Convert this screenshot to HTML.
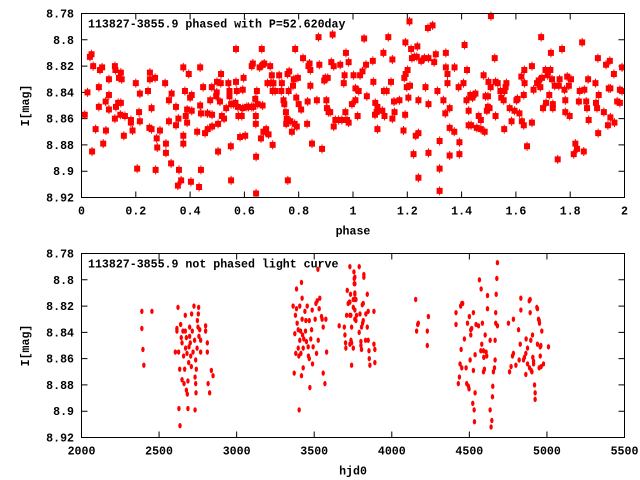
<!DOCTYPE html>
<html><head><meta charset="utf-8"><style>
html,body{margin:0;padding:0;background:#fff}
svg{display:block}
text{font-family:"Liberation Mono","DejaVu Sans Mono",monospace;font-weight:bold;font-size:11.6px;fill:#000}
</style></head><body>
<svg id="chart" width="640" height="480" viewBox="0 0 640 480" xmlns="http://www.w3.org/2000/svg">
<g id="top"></g>
<g id="bot"></g>
</svg>
<script>
const phaseTicks=["0","0.2","0.4","0.6","0.8","1","1.2","1.4","1.6","1.8","2"];
const hjdTicks=["2000","2500","3000","3500","4000","4500","5000","5500"];
const magTicks=["8.78","8.8","8.82","8.84","8.86","8.88","8.9","8.92"];
const phaseVals=[0.012,0.022,0.031,0.037,0.039,0.043,0.052,0.064,0.064,0.068,0.076,0.080,0.089,0.090,0.101,0.101,0.101,0.123,0.123,0.125,0.127,0.135,0.138,0.143,0.145,0.145,0.148,0.156,0.160,0.182,0.182,0.188,0.200,0.205,0.212,0.215,0.215,0.245,0.250,0.252,0.252,0.258,0.258,0.271,0.273,0.277,0.279,0.289,0.308,0.311,0.311,0.322,0.322,0.330,0.332,0.348,0.348,0.355,0.357,0.359,0.367,0.375,0.375,0.375,0.381,0.384,0.389,0.389,0.395,0.400,0.403,0.406,0.406,0.426,0.433,0.437,0.437,0.440,0.440,0.448,0.455,0.464,0.465,0.474,0.480,0.481,0.481,0.496,0.498,0.499,0.503,0.503,0.510,0.513,0.514,0.517,0.525,0.533,0.541,0.545,0.545,0.550,0.551,0.551,0.560,0.567,0.569,0.569,0.572,0.576,0.578,0.584,0.590,0.594,0.594,0.597,0.603,0.609,0.615,0.627,0.627,0.631,0.633,0.640,0.642,0.642,0.643,0.643,0.646,0.649,0.656,0.661,0.664,0.667,0.668,0.670,0.673,0.677,0.680,0.685,0.689,0.695,0.697,0.701,0.704,0.704,0.707,0.713,0.728,0.736,0.738,0.744,0.747,0.753,0.754,0.756,0.759,0.760,0.763,0.765,0.769,0.775,0.779,0.782,0.785,0.787,0.791,0.793,0.797,0.800,0.809,0.816,0.831,0.833,0.836,0.840,0.843,0.843,0.849,0.867,0.873,0.876,0.886,0.894,0.898,0.902,0.907,0.910,0.904,0.916,0.920,0.925,0.929,0.929,0.935,0.947,0.953,0.959,0.966,0.969,0.972,0.974,0.978,0.984,0.984,0.996,1.002,1.009,1.009,1.017,1.021,
1.026,1.035,1.041,1.048,1.051,1.073,1.075,1.081,1.082,1.087,1.090,1.090,1.108,1.112,1.114,1.116,1.124,1.130,1.140,1.145,1.145,1.151,1.153,1.171,1.186,1.189,1.192,1.193,1.194,1.198,1.201,1.204,1.208,1.210,1.214,1.217,1.223,1.226,1.231,1.235,1.237,1.241,1.241,1.241,1.251,1.263,1.267,1.276,1.278,1.278,1.278,1.293,1.299,1.305,1.311,1.319,1.319,1.319,1.333,1.340,1.342,1.342,1.348,1.348,1.356,1.356,1.356,1.373,1.374,1.389,1.392,1.392,1.407,1.411,1.418,1.420,1.426,1.426,1.432,1.435,1.440,1.444,1.451,1.456,1.463,1.471,1.471,1.481,1.485,1.488,1.493,1.497,1.497,1.499,1.503,1.507,1.508,1.522,1.525,1.525,1.533,1.543,1.546,1.555,1.557,1.558,1.562,1.565,1.577,1.584,1.595,1.602,1.606,1.613,1.620,1.622,1.629,1.629,1.631,1.632,1.641,1.659,1.659,1.665,1.678,1.684,1.690,1.693,1.696,1.700,1.709,1.711,1.717,1.723,1.727,1.729,1.733,1.736,1.736,1.743,1.754,1.758,1.761,1.770,1.779,1.782,1.782,1.789,1.795,1.798,1.803,1.813,1.819,1.825,1.832,1.835,1.844,1.850,1.852,1.859,1.862,1.866,1.868,1.893,1.895,1.899,1.902,1.903,1.905,1.924,1.932,1.939,1.942,1.946,1.948,1.948,1.961,1.963,1.973,1.983,1.983,1.991,1.991];
const phaseMags=[8.857,8.840,8.813,8.811,8.885,8.820,8.868,8.851,8.836,8.823,8.821,8.879,8.847,8.869,8.853,8.842,8.830,8.860,8.820,8.823,8.851,8.848,8.829,8.857,8.825,8.848,8.830,8.873,8.858,8.861,8.863,8.869,8.833,8.898,8.855,8.862,8.841,8.839,8.867,8.825,8.830,8.852,8.868,8.829,8.899,8.875,8.882,8.869,8.833,8.886,8.879,8.862,8.846,8.894,8.841,8.851,8.865,8.911,8.860,8.899,8.907,8.879,8.873,8.821,8.839,8.858,8.853,8.863,8.826,8.844,8.908,8.842,8.854,8.870,8.912,8.850,8.821,8.899,8.856,8.836,8.871,8.856,8.868,8.846,8.836,8.866,8.857,8.843,8.840,8.832,8.885,8.864,8.847,8.833,8.826,8.858,8.860,8.852,8.833,8.843,8.839,8.881,8.907,8.849,8.849,8.848,8.832,8.807,8.839,8.851,8.858,8.874,8.858,8.838,8.852,8.829,8.873,8.851,8.851,8.851,8.820,8.818,8.851,8.845,8.864,8.858,8.889,8.917,8.839,8.849,8.821,8.875,8.807,8.850,8.819,8.870,8.818,8.870,8.868,8.833,8.872,8.820,8.833,8.827,8.880,8.839,8.833,8.839,8.827,8.839,8.833,8.846,8.849,8.855,8.864,8.860,8.826,8.907,8.839,8.824,8.862,8.870,8.835,8.830,8.864,8.807,8.844,8.866,8.829,8.849,8.853,8.814,8.864,8.847,8.820,8.818,8.823,8.835,8.879,8.846,8.798,8.819,8.883,8.831,8.829,8.846,8.829,8.855,8.852,8.855,8.817,8.796,8.866,8.820,8.861,8.861,8.819,8.861,8.833,8.827,8.855,8.810,8.861,8.863,8.817,8.849,8.827,8.837,8.846,8.858,8.839,
8.827,8.824,8.799,8.819,8.843,8.816,8.832,8.857,8.848,8.855,8.868,8.851,8.854,8.810,8.839,8.858,8.839,8.798,8.832,8.860,8.815,8.847,8.855,8.846,8.869,8.829,8.857,8.802,8.826,8.836,8.823,8.844,8.786,8.835,8.807,8.814,8.887,8.813,8.873,8.813,8.805,8.871,8.846,8.905,8.816,8.814,8.836,8.791,8.849,8.886,8.814,8.789,8.817,8.811,8.839,8.877,8.898,8.915,8.846,8.856,8.810,8.821,8.833,8.826,8.867,8.852,8.888,8.870,8.821,8.836,8.887,8.878,8.833,8.804,8.846,8.823,8.854,8.865,8.842,8.865,8.844,8.842,8.841,8.867,8.858,8.861,8.868,8.827,8.870,8.843,8.854,8.843,8.851,8.832,8.852,8.836,8.782,8.814,8.858,8.832,8.833,8.839,8.844,8.846,8.868,8.839,8.836,8.833,8.852,8.862,8.854,8.846,8.845,8.856,8.828,8.862,8.842,8.865,8.823,8.833,8.881,8.863,8.820,8.838,8.833,8.831,8.836,8.798,8.829,8.852,8.823,8.848,8.827,8.842,8.823,8.810,8.830,8.849,8.852,8.835,8.891,8.835,8.830,8.807,8.838,8.846,8.855,8.828,8.835,8.858,8.830,8.887,8.879,8.883,8.847,8.839,8.802,8.885,8.838,8.847,8.852,8.830,8.861,8.833,8.848,8.852,8.814,8.871,8.842,8.855,8.819,8.865,8.837,8.816,8.859,8.837,8.826,8.863,8.847,8.848,8.838,8.821,8.839];
const hjdVals=[2389,2389,2396,2402,2454,2622,2615,2615,2605,2626,2633,2628,2635,2639,2643,2648,2648,2654,2658,2661,2665,2669,2669,2671,2676,2676,2680,2682,2686,2686,2691,2693,2697,2697,2701,2704,2708,2710,2714,2719,2725,2729,2732,2732,2736,2736,2738,2740,2745,2747,2751,2753,2755,2757,2762,2768,2768,2800,2800,2811,2811,2816,2826,2837,2848,
3364,3371,3375,3379,3381,3386,3386,3390,3397,3397,3401,3403,3407,3407,3412,3414,3418,3418,3422,3422,3425,3429,3429,3433,3440,3444,3446,3450,3455,3461,3463,3468,3468,3472,3478,3483,3487,3489,3493,3506,3511,3515,3519,3524,3526,3532,3536,3547,3551,3558,3558,3569,3575,3580,
3661,3694,3698,3702,3704,3709,3713,3719,3726,3730,3734,3737,3741,3741,3752,3756,3758,3762,3762,3762,3769,3773,3730,3730,3730,3736,3741,3752,3752,3758,3762,3762,3762,3762,3769,3790,3790,3795,3801,3801,3805,3805,3810,3812,3816,3816,3820,3820,3831,3833,3842,3842,3848,3848,3853,3855,3859,3885,3885,3891,3891,
4154,4160,4167,4171,4229,4236,4229,
4414,4414,4429,4436,4440,4444,4447,4451,4451,4457,4468,4479,4483,4488,4494,4498,4500,4505,4509,4509,4515,4522,4526,4526,4531,4533,4537,4537,4543,4559,4565,4574,4576,4580,4584,4591,4591,4593,4597,4602,4608,4612,4617,4617,4634,4634,4640,4645,4649,4651,4655,4662,4666,4666,4670,4670,4673,4677,4681,4681,
4752,4759,4769,4778,4784,4784,4800,4817,4821,4828,4832,4832,4849,4855,4864,4866,4864,4875,4875,4886,4888,4892,4892,4896,4899,4903,4907,4909,4914,4914,4920,4924,4924,4935,4939,4939,4946,4950,4950,4952,4957,4957,4961,4963,4967,4978,5010];
const hjdMags=[8.824,8.837,8.853,8.865,8.824,8.821,8.837,8.839,8.855,8.855,8.868,8.898,8.911,8.834,8.844,8.848,8.876,8.839,8.858,8.879,8.868,8.827,8.839,8.852,8.844,8.884,8.856,8.887,8.877,8.898,8.863,8.851,8.836,8.843,8.848,8.858,8.866,8.826,8.839,8.855,8.820,8.846,8.899,8.874,8.861,8.879,8.886,8.868,8.852,8.831,8.836,8.826,8.821,8.843,8.838,8.846,8.855,8.835,8.839,8.848,8.855,8.879,8.886,8.869,8.873,
8.820,8.871,8.841,8.827,8.856,8.822,8.807,8.833,8.852,8.838,8.858,8.899,8.820,8.846,8.839,8.856,8.802,8.873,8.814,8.830,8.842,8.852,8.867,8.845,8.824,8.839,8.831,8.847,8.820,8.851,8.858,8.860,8.831,8.882,8.845,8.838,8.823,8.864,8.851,8.830,8.818,8.856,8.816,8.792,8.846,8.822,8.814,8.828,8.830,8.836,8.871,8.879,8.830,8.855,
8.835,8.836,8.842,8.848,8.852,8.827,8.808,8.818,8.817,8.827,8.811,8.846,8.848,8.865,8.821,8.794,8.803,8.798,8.815,8.810,8.831,8.827,8.790,8.817,8.849,8.827,8.836,8.852,8.815,8.799,8.803,8.811,8.830,8.823,8.815,8.790,8.840,8.826,8.850,8.847,8.853,8.836,8.819,8.833,8.818,8.831,8.796,8.798,8.846,8.826,8.811,8.836,8.824,8.846,8.854,8.860,8.865,8.824,8.849,8.863,8.853,
8.815,8.839,8.834,8.833,8.839,8.828,8.850,
8.825,8.834,8.879,8.874,8.864,8.820,8.853,8.818,8.867,8.818,8.845,8.867,8.879,8.833,8.881,8.883,8.828,8.861,8.842,8.838,8.837,8.894,8.825,8.869,8.899,8.908,8.886,8.857,8.834,8.835,8.800,8.854,8.807,8.849,8.833,8.854,8.870,8.859,8.868,8.842,8.855,8.858,8.822,8.812,8.846,8.899,8.912,8.907,8.889,8.881,8.870,8.867,8.846,8.861,8.833,8.825,8.811,8.799,8.787,8.835,
8.833,8.870,8.866,8.858,8.856,8.830,8.865,8.838,8.861,8.849,8.814,8.823,8.861,8.859,8.856,8.845,8.872,8.852,8.864,8.816,8.867,8.825,8.815,8.846,8.869,8.870,8.842,8.859,8.862,8.864,8.880,8.886,8.891,8.821,8.822,8.849,8.830,8.831,8.867,8.833,8.851,8.858,8.850,8.866,8.839,8.864,8.851];

const NS="http://www.w3.org/2000/svg";
function mk(tag,attrs,parent){const e=document.createElementNS(NS,tag);for(const k in attrs)e.setAttribute(k,attrs[k]);parent.appendChild(e);return e;}

function panel(g,cfg){
  const L=81.5,R=624.5,T=cfg.top,B=cfg.top+184;
  const sx=v=>L+(v-cfg.xmin)/(cfg.xmax-cfg.xmin)*(R-L);
  const sy=v=>T+(v-8.78)/(0.14)*(B-T);
  cfg.xticks.forEach(t=>{
    const x=sx(parseFloat(t));
    const tk=mk('path',{d:`M${x},${B}v-6M${x},${T}v6`,stroke:'#000','stroke-width':1},g);
    
    
    const lb=mk('text',{x:x,y:B+17,'text-anchor':'middle'},g);
    lb.textContent=t;
    
    
  });
  magTicks.forEach(t=>{
    const y=sy(parseFloat(t));
    const tk=mk('path',{d:`M${L},${y}h6M${R},${y}h-6`,stroke:'#000','stroke-width':1},g);
    
    
    const lb=mk('text',{x:74,y:y+4,'text-anchor':'end'},g);
    lb.textContent=t;
    
    
  });
  cfg.xs.forEach((v,i)=>{
    const x=sx(v),y=sy(cfg.ys[i]);
    let p;
    if(cfg.big){
      p=mk('path',{d:`M${x-3},${y-3}h6v6h-6zM${x-0.5},${y-4.5}h1v9h-1z`,fill:'#ff0000'},g);
    }else{
      p=mk('ellipse',{cx:x,cy:y,rx:1.7,ry:2.7,fill:'#ff0000'},g);
    }
    
    
  });
  const fr=mk('rect',{x:L,y:T,width:R-L,height:B-T,fill:'none',stroke:'#000','stroke-width':1},g);
  
  
  const ti=mk('text',{x:88,y:T+14},g);
  ti.textContent=cfg.title;
  
  
  const xl=mk('text',{x:(L+R)/2,y:B+37,'text-anchor':'middle'},g);
  xl.textContent=cfg.xlabel;
  
  
  const yl=mk('text',{x:0,y:0,'text-anchor':'middle',transform:`translate(29,${(T+B)/2}) rotate(-90)`},g);
  yl.textContent='I[mag]';
  
  
}
panel(document.getElementById('top'),{top:13.5,xmin:0,xmax:2,xticks:phaseTicks,xs:phaseVals,ys:phaseMags,big:true,title:'113827-3855.9 phased with P=52.620day',xlabel:'phase'});
panel(document.getElementById('bot'),{top:253.5,xmin:2000,xmax:5500,xticks:hjdTicks,xs:hjdVals,ys:hjdMags,big:false,title:'113827-3855.9 not phased light curve',xlabel:'hjd0'});
</script>
</body></html>
